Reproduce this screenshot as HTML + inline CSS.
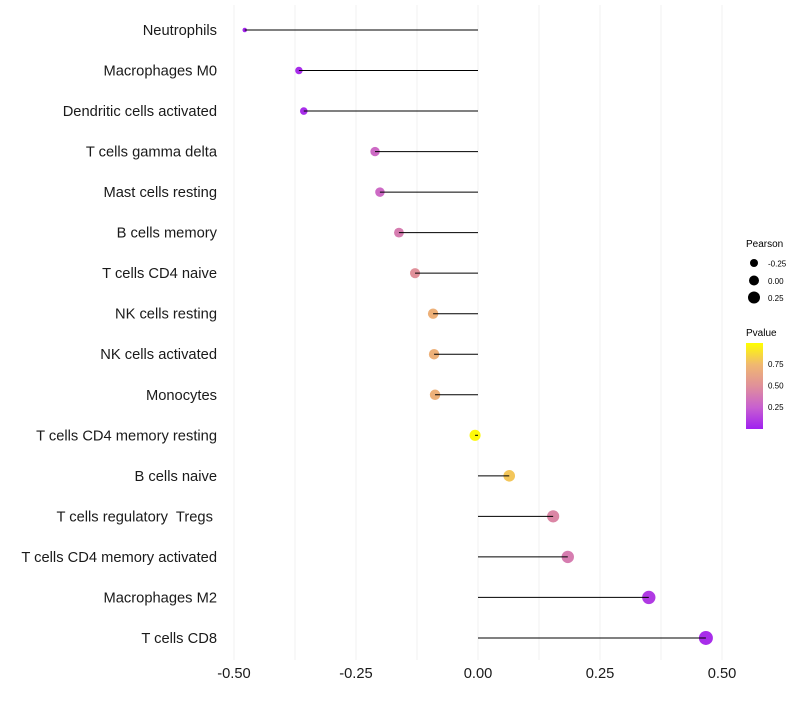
<!DOCTYPE html>
<html><head><meta charset="utf-8"><style>
body{margin:0;background:#fff;}
svg{font-family:"Liberation Sans",Arial,sans-serif;}
</style></head><body>
<svg id="chart" width="800" height="700" xmlns="http://www.w3.org/2000/svg">
<g id="grid"></g>
<g id="ylabels"></g>
<g id="marks"></g>
<g id="xlabels"></g>
<g id="legend">
  <text x="746" y="247" font-size="10">Pearson</text>
  <circle cx="754" cy="263" r="4" fill="#000"/>
  <text x="768" y="266.5" font-size="8">-0.25</text>
  <circle cx="754" cy="280.5" r="5" fill="#000"/>
  <text x="768" y="284" font-size="8">0.00</text>
  <circle cx="754" cy="297.5" r="6" fill="#000"/>
  <text x="768" y="301" font-size="8">0.25</text>
  <text x="746" y="336" font-size="10">Pvalue</text>
  <defs><linearGradient id="pg" x1="0" y1="1" x2="0" y2="0">
    <stop offset="0" stop-color="#A020F0"/><stop offset="0.25" stop-color="#C860D0"/>
    <stop offset="0.5" stop-color="#E0909A"/><stop offset="0.75" stop-color="#F0B870"/>
    <stop offset="1" stop-color="#FFFF00"/></linearGradient></defs>
  <rect x="746" y="343" width="17" height="86" fill="url(#pg)"/>
  <text x="768" y="367" font-size="8">0.75</text>
  <text x="768" y="388.5" font-size="8">0.50</text>
  <text x="768" y="410" font-size="8">0.25</text>
</g>
</svg>
<script>
const categories=["Neutrophils","Macrophages M0","Dendritic cells activated","T cells gamma delta","Mast cells resting","B cells memory","T cells CD4 naive","NK cells resting","NK cells activated","Monocytes","T cells CD4 memory resting","B cells naive","T cells regulatory  Tregs ","T cells CD4 memory activated","Macrophages M2","T cells CD8"];
const pearson=[-0.478,-0.367,-0.357,-0.211,-0.201,-0.162,-0.129,-0.092,-0.090,-0.088,-0.006,0.064,0.154,0.184,0.350,0.467];
const pvalue=[0.02,0.05,0.05,0.3,0.3,0.4,0.5,0.7,0.7,0.7,0.98,0.8,0.45,0.4,0.1,0.05];
const xTicks=[-0.5,-0.25,0,0.25,0.5];
const xTickLabels=["-0.50","-0.25","0.00","0.25","0.50"];
const NS="http://www.w3.org/2000/svg";
function xs(v){return 478+v*488;}
function ys(i){return 30+i*40.53;}
function rs(p){return 2+5*Math.sqrt(Math.max(0,(p+0.48)/0.947));}
const stops=[[0,[160,32,240]],[0.25,[200,96,208]],[0.5,[224,144,154]],[0.75,[240,184,112]],[1,[255,255,0]]];
function col(p){for(let i=1;i<stops.length;i++){if(p<=stops[i][0]){const a=stops[i-1],b=stops[i],t=(p-a[0])/(b[0]-a[0]);return "rgb("+a[1].map((c,k)=>Math.round(c+(b[1][k]-c)*t)).join(",")+")";}}return "rgb(255,255,0)";}
function mk(tag,attrs,parent){const e=document.createElementNS(NS,tag);for(const k in attrs)e.setAttribute(k,attrs[k]);parent.appendChild(e);return e;}
const grid=document.getElementById('grid');
for(let v=-0.5;v<=0.5001;v+=0.125){
  const l=mk('line',{x1:xs(v),x2:xs(v),y1:5,y2:660,stroke:'#f0f0f0','stroke-width':1},grid);
  
  
}
const yl=document.getElementById('ylabels'),marks=document.getElementById('marks'),xl=document.getElementById('xlabels');
categories.forEach((c,i)=>{
  const t=mk('text',{x:217,y:ys(i)+5,'text-anchor':'end','font-size':14.7,fill:'#1a1a1a',style:'white-space:pre'},yl);
  t.textContent=c;
  
  
  const dot=mk('circle',{cx:xs(pearson[i]),cy:ys(i),r:rs(pearson[i]),fill:col(pvalue[i])},marks);
  
  
  const seg=mk('line',{x1:xs(0),x2:xs(pearson[i]),y1:ys(i),y2:ys(i),stroke:'#000','stroke-width':1},marks);
  
  
});
xTicks.forEach((v,i)=>{
  const t=mk('text',{x:xs(v),y:678,'text-anchor':'middle','font-size':14.7,fill:'#1a1a1a'},xl);
  t.textContent=xTickLabels[i];
  
  
});
</script>
</body></html>
